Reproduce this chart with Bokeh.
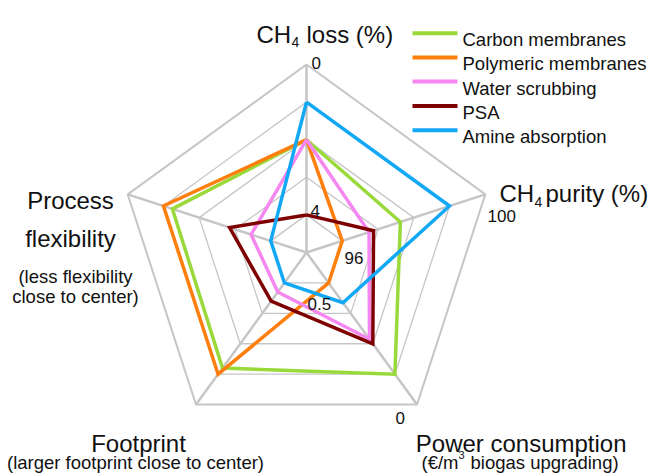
import numpy as np
from bokeh.plotting import figure
from bokeh.models import Range1d, Label
from bokeh.embed import file_html
from bokeh.resources import INLINE

# ---------------- data ----------------
axis_names = ["CH4 loss (%)", "CH4 purity (%)", "Power consumption", "Footprint", "Process flexibility"]
series_names = ["Carbon membranes", "Polymeric membranes", "Water scrubbing", "PSA", "Amine absorption"]
series_colors = ["#99D93A", "#FF7F0E", "#F587F0", "#7F0000", "#12A8F5"]

# axis scales: value at centre, value at outer ring
ch4_loss_scale = [4, 0]
ch4_purity_scale = [96, 100]
power_scale = [0.5, 0]
footprint_scale = [0, 5]      # relative score (larger footprint close to centre)
flexibility_scale = [0, 5]    # relative score (less flexibility close to centre)

ch4_loss = [1.6, 1.6, 1.6, 3.2, 0.8]
ch4_purity = [98.1, 96.8, 97.4, 97.5, 99.2]
power = [0.10, 0.40, 0.215, 0.20, 0.335]
footprint = [3.8, 4.0, 1.3, 1.6, 1.0]
flexibility = [3.75, 4.0, 1.55, 2.15, 1.0]

# ---------------- geometry ----------------
CX, CY, R = 306.0, 252.0, 188.0       # page-pixel centre and radius of the chart
W, H = 651, 473
OX, OY = 0, 0                          # page offset of the figure

def px(X, Y):
    return ((X - CX) / R, (CY - Y) / R)

angles = np.deg2rad([90, 18, -54, -126, 162])

def norm(v, sc):
    return (v - sc[0]) / (sc[1] - sc[0])

p = figure(width=W, height=H, output_backend="svg", toolbar_location=None,
           x_axis_type=None, y_axis_type=None, min_border=0,
           x_range=Range1d((OX - CX) / R, (OX + W - CX) / R),
           y_range=Range1d((CY - OY - H) / R, (CY - OY) / R))
p.grid.visible = False
p.outline_line_color = None
p.background_fill_color = "white"
p.border_fill_color = "white"

# grid rings
for k in range(1, 6):
    r = k / 5
    xs = list(r * np.cos(angles)) + [r * np.cos(angles[0])]
    ys = list(r * np.sin(angles)) + [r * np.sin(angles[0])]
    p.line(xs, ys, line_color="#c6c6c6", line_width=2.0 if k == 5 else 1.3)
# spokes
for a in angles:
    p.line([0, np.cos(a)], [0, np.sin(a)], line_color="#c6c6c6", line_width=2.5)

# series
for i, name in enumerate(series_names):
    vals = [norm(ch4_loss[i], ch4_loss_scale), norm(ch4_purity[i], ch4_purity_scale),
            norm(power[i], power_scale), norm(footprint[i], footprint_scale),
            norm(flexibility[i], flexibility_scale)]
    xs = [v * np.cos(a) for v, a in zip(vals, angles)]
    ys = [v * np.sin(a) for v, a in zip(vals, angles)]
    xs.append(xs[0]); ys.append(ys[0])
    p.line(xs, ys, line_color=series_colors[i], line_width=3.5, line_join="miter")

FONT = "Liberation Sans"

def lab(X, Y, text, size, align="left", color="#111111"):
    x, y = px(X, Y)
    p.add_layout(Label(x=x, y=y, text=text, text_font=FONT, text_font_size=f"{size}px",
                       text_align=align, text_baseline="alphabetic", text_color=color))

# legend
leg_y = [32.7, 56.9, 81.1, 105.5, 129.7]
for i, name in enumerate(series_names):
    x0, y0 = px(412, leg_y[i])
    x1, _ = px(457, leg_y[i])
    p.line([x0, x1], [y0, y0], line_color=series_colors[i], line_width=4)
    lab(462, leg_y[i] + 6.5, name, 18.5)

# axis titles
lab(256, 34, "CH", 24); lab(291, 41, "4", 14); lab(306, 34, "loss (%)", 24)
lab(499, 193, "CH", 24); lab(534, 201, "4", 14); lab(545, 193, "purity (%)", 24)
lab(70, 200, "Process", 24, "center")
lab(70, 238, "flexibility", 24, "center")
lab(75, 276, "(less flexibility", 18.5, "center")
lab(75, 296, "close to center)", 18.5, "center")
lab(138, 443, "Footprint", 24, "center")
lab(135, 462, "(larger footprint close to center)", 18.5, "center")
lab(524, 443, "Power  consumption", 24, "center")
lab(421, 462, "(\u20ac/m", 18.5)
lab(458, 454, "3", 11)
lab(470, 462, "biogas upgrading)", 18.5)

# scale tick labels
lab(311, 62, "0", 17)
lab(310, 210, "4", 17)
lab(487, 215, "100", 17)
lab(344, 257, "96", 17)
lab(307, 303, "0.5", 17)
lab(395, 417, "0", 17)

open("out.html", "w").write(file_html(p, INLINE))
